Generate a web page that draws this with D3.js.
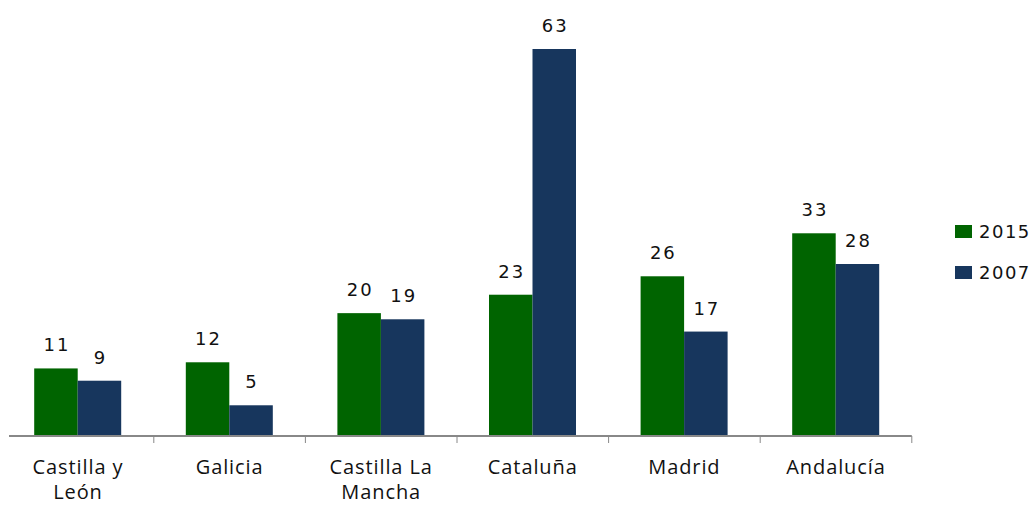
<!DOCTYPE html>
<html>
<head>
<meta charset="utf-8">
<script src="https://cdn.jsdelivr.net/npm/d3@7"></script>
<style>
  body { margin: 0; background: #fff; }
  svg { display: block; }
</style>
</head>
<body>
<svg id="chart" width="1035" height="505"></svg>
<script>
// Regions (two-line labels split on purpose)
var regions = ["Castilla y León", "Galicia", "Castilla La Mancha", "Cataluña", "Madrid", "Andalucía"];
var labelLines = [["Castilla y", "León"], ["Galicia"], ["Castilla La", "Mancha"], ["Cataluña"], ["Madrid"], ["Andalucía"]];
var seriesNames = ["2015", "2007"];
var values2015 = [11, 12, 20, 23, 26, 33];
var values2007 = [9, 5, 19, 63, 17, 28];
var colors = ["#006400", "#17365d"];

var svg = d3.select("#chart");

var x = d3.scaleBand()
    .domain(regions)
    .range([2.2, 911.8])
    .paddingInner(0)
    .paddingOuter(0);

var x1 = d3.scaleBand()
    .domain(seriesNames)
    .range([32, 119]);

var y = d3.scaleLinear()
    .domain([0, 70])
    .range([436, 6]);

var data = regions.map(function (r, i) {
    return { region: r, values: [values2015[i], values2007[i]] };
});

// bars
var groups = svg.selectAll("g.grp")
    .data(data)
    .enter().append("g")
    .attr("class", "grp")
    .attr("transform", function (d) { return "translate(" + x(d.region) + ",0)"; });

groups.selectAll("rect")
    .data(function (d) { return d.values.map(function (v, j) { return { s: seriesNames[j], v: v, j: j }; }); })
    .enter().append("rect")
    .attr("x", function (d) { return x1(d.s); })
    .attr("width", x1.bandwidth())
    .attr("y", function (d) { return y(d.v); })
    .attr("height", function (d) { return y(0) - y(d.v); })
    .attr("fill", function (d) { return colors[d.j]; });

// value labels
groups.selectAll("text.val")
    .data(function (d) { return d.values.map(function (v, j) { return { s: seriesNames[j], v: v }; }); })
    .enter().append("text")
    .attr("class", "val")
    .attr("x", function (d) { return x1(d.s) + x1.bandwidth() / 2 + 1; })
    .attr("y", function (d) { return y(d.v) - 17; })
    .attr("text-anchor", "middle")
    .attr("font-family", "DejaVu Sans, Verdana, sans-serif")
    .attr("font-size", 18)
    .attr("letter-spacing", 2)
    .attr("fill", "#111")
    .text(function (d) { return d.v; });

// axis
var axisG = svg.append("g").attr("transform", "translate(0," + y(0) + ")");
axisG.append("line")
    .attr("x1", 9).attr("x2", x.range()[1])
    .attr("stroke", "#888").attr("stroke-width", 2);
axisG.selectAll("line.tick")
    .data(regions)
    .enter().append("line")
    .attr("class", "tick")
    .attr("x1", function (d) { return x(d) + x.bandwidth(); })
    .attr("x2", function (d) { return x(d) + x.bandwidth(); })
    .attr("y1", 0).attr("y2", 7)
    .attr("stroke", "#888").attr("stroke-width", 1);

// category labels
svg.selectAll("text.cat")
    .data(regions)
    .enter().append("text")
    .attr("class", "cat")
    .attr("text-anchor", "middle")
    .attr("font-family", "Open Sans, sans-serif")
    .attr("font-size", 20)
    .attr("letter-spacing", 0.9)
    .attr("fill", "#111")
    .each(function (d, i) {
        var t = d3.select(this);
        labelLines[i].forEach(function (line, k) {
            t.append("tspan")
                .attr("x", x(d) + x.bandwidth() / 2)
                .attr("y", 474 + k * 25)
                .text(line);
        });
    });

// legend
var legend = svg.selectAll("g.leg")
    .data(seriesNames)
    .enter().append("g")
    .attr("class", "leg")
    .attr("transform", function (d, i) { return "translate(955," + (225 + i * 41) + ")"; });
legend.append("rect")
    .attr("width", 17).attr("height", 13)
    .attr("fill", function (d, i) { return colors[i]; });
legend.append("text")
    .attr("x", 24).attr("y", 13)
    .attr("font-family", "DejaVu Sans, Verdana, sans-serif")
    .attr("font-size", 18)
    .attr("letter-spacing", 1.5)
    .attr("fill", "#111")
    .text(function (d) { return d; });
</script>
</body>
</html>
